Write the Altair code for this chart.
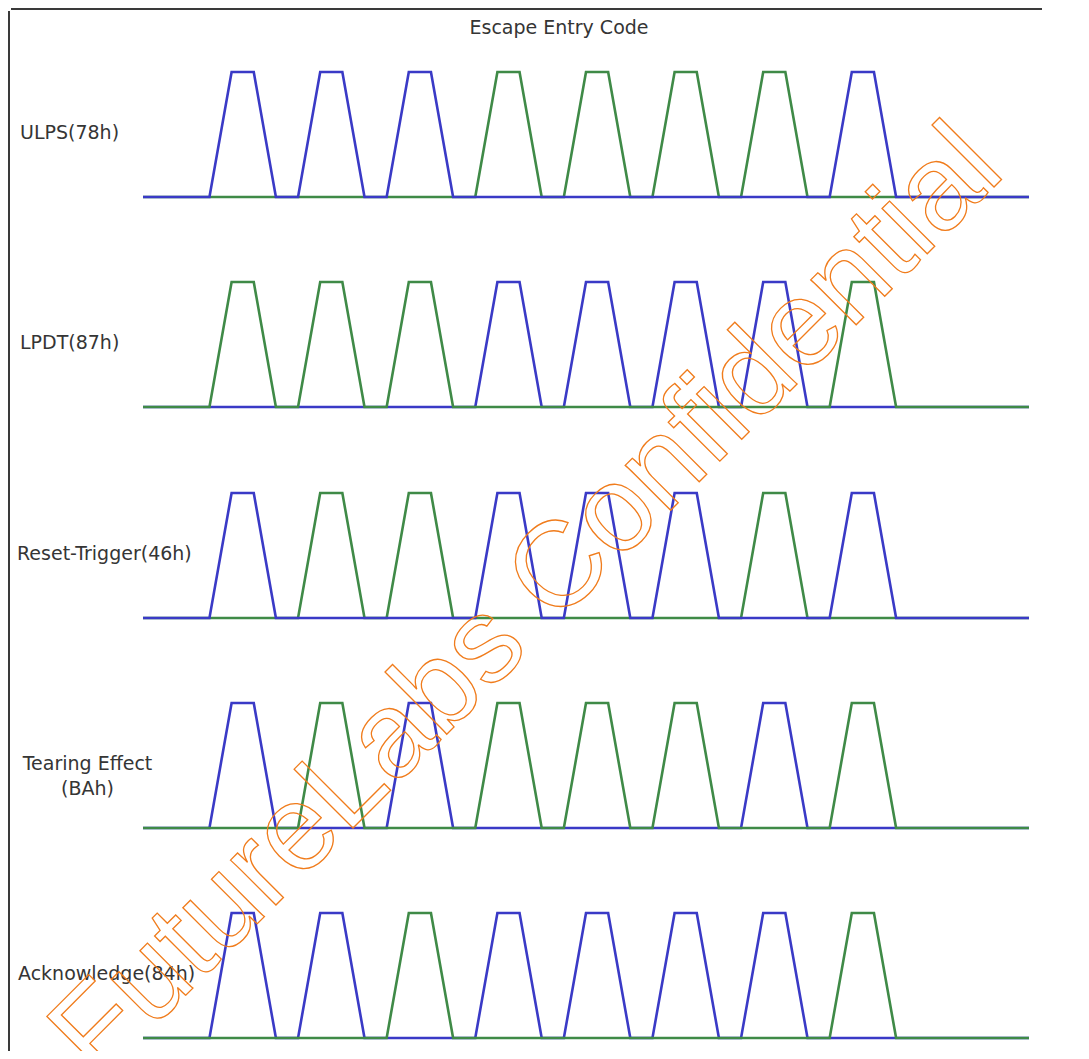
import altair as alt
import pandas as pd

# ---------------- data ----------------
row_labels = ["ULPS(78h)", "LPDT(87h)", "Reset-Trigger(46h)", "Tearing Effect\n(BAh)", "Acknowledge(84h)"]
# escape codes sent LSB first: 0 -> pulse on the blue line, 1 -> pulse on the green line
ulps_bits = [0, 0, 0, 1, 1, 1, 1, 0]    # 78h
lpdt_bits = [1, 1, 1, 0, 0, 0, 0, 1]    # 87h
reset_bits = [0, 1, 1, 0, 0, 0, 1, 0]   # 46h
te_bits = [0, 1, 0, 1, 1, 1, 0, 1]      # BAh
ack_bits = [0, 0, 1, 0, 0, 0, 0, 1]     # 84h
row_bits = [ulps_bits, lpdt_bits, reset_bits, te_bits, ack_bits]

pulse_starts = [3, 7, 11, 15, 19, 23, 27, 31]  # time units
pulse_shape_t = [0, 1, 2, 3]                   # rise start, top start, top end, fall end
pulse_shape_level = [0, 1, 1, 0]
line_span = [0, 40]

title_text = "Escape Entry Code"
watermark_text = "FutureLabs Confidential"

# ---------------- style / layout ----------------
W, H = 1073, 1043
BLUE, GREEN = "#3a3ac6", "#3f8a47"
TEXT = "#353535"
FONT = "DejaVu Sans"
unit_px = 22.15
origin_px = 143
baseline_px = [197, 407, 618, 828, 1038]
level_px = 125
label_x = [12, 12, 9, 79.5, 10]
label_align = ["left", "left", "left", "center", "left"]

x_scale = alt.Scale(domain=[(8 - origin_px) / unit_px, (8 + W - origin_px) / unit_px], nice=False, zero=False)


def wave(bits, which):
    t, lv = [line_span[0]], [0]
    for s, b in zip(pulse_starts, bits):
        if b == which:
            t += [s + d for d in pulse_shape_t]
            lv += pulse_shape_level
    t.append(line_span[1])
    lv.append(0)
    return pd.DataFrame({"t": t, "level": lv, "i": list(range(len(t)))})


one = alt.Data(values=[{}])
layers = []

# frame
layers.append(alt.Chart(one).mark_rule(color="#3a3a3a", strokeWidth=2).encode(
    x=alt.value(1), y=alt.value(3), y2=alt.value(H)))
layers.append(alt.Chart(one).mark_rule(color="#3a3a3a", strokeWidth=2).encode(
    x=alt.value(3), x2=alt.value(1034), y=alt.value(1)))

# title
layers.append(alt.Chart(one).mark_text(font=FONT, fontSize=19, color=TEXT, align="center", baseline="middle").encode(
    x=alt.value(551), y=alt.value(20), text=alt.value(title_text)))

for r, (lab, bits) in enumerate(zip(row_labels, row_bits)):
    B = baseline_px[r]
    ysc = alt.Scale(domain=[(B - 8 - H) / level_px, (B - 8) / level_px], nice=False, zero=False)
    top_color = bits[-1]
    order = [1 - top_color, top_color]
    sub = []
    for which in order:
        col = BLUE if which == 0 else GREEN
        sub.append(alt.Chart(wave(bits, which)).mark_line(color=col, strokeWidth=2.6, strokeJoin="miter").encode(
            x=alt.X("t:Q", scale=x_scale, axis=None),
            y=alt.Y("level:Q", scale=ysc, axis=None),
            order="i:Q"))
    sub.append(alt.Chart(one).mark_text(font=FONT, fontSize=19, color=TEXT, align=label_align[r],
                                        baseline="middle", lineBreak="\n", lineHeight=25).encode(
        x=alt.value(label_x[r]), y=alt.value(B - 8 - 64), text=alt.value(lab)))
    layers.append(alt.layer(*sub))

# watermark
layers.append(alt.Chart(one).mark_text(font="Liberation Sans", fontSize=121, angle=315, align="center",
                                       baseline="alphabetic", fill="transparent", stroke="#f07c1c",
                                       strokeWidth=1.3).encode(
    x=alt.value(545), y=alt.value(620), text=alt.value(watermark_text)))

chart = alt.layer(*layers).resolve_scale(y="independent").properties(
    width=W, height=H, autosize=alt.AutoSizeParams(type="none"), padding=0, background="white"
).configure_view(stroke=None)

chart.save("out.html", embed_options={"renderer": "svg", "actions": False})
